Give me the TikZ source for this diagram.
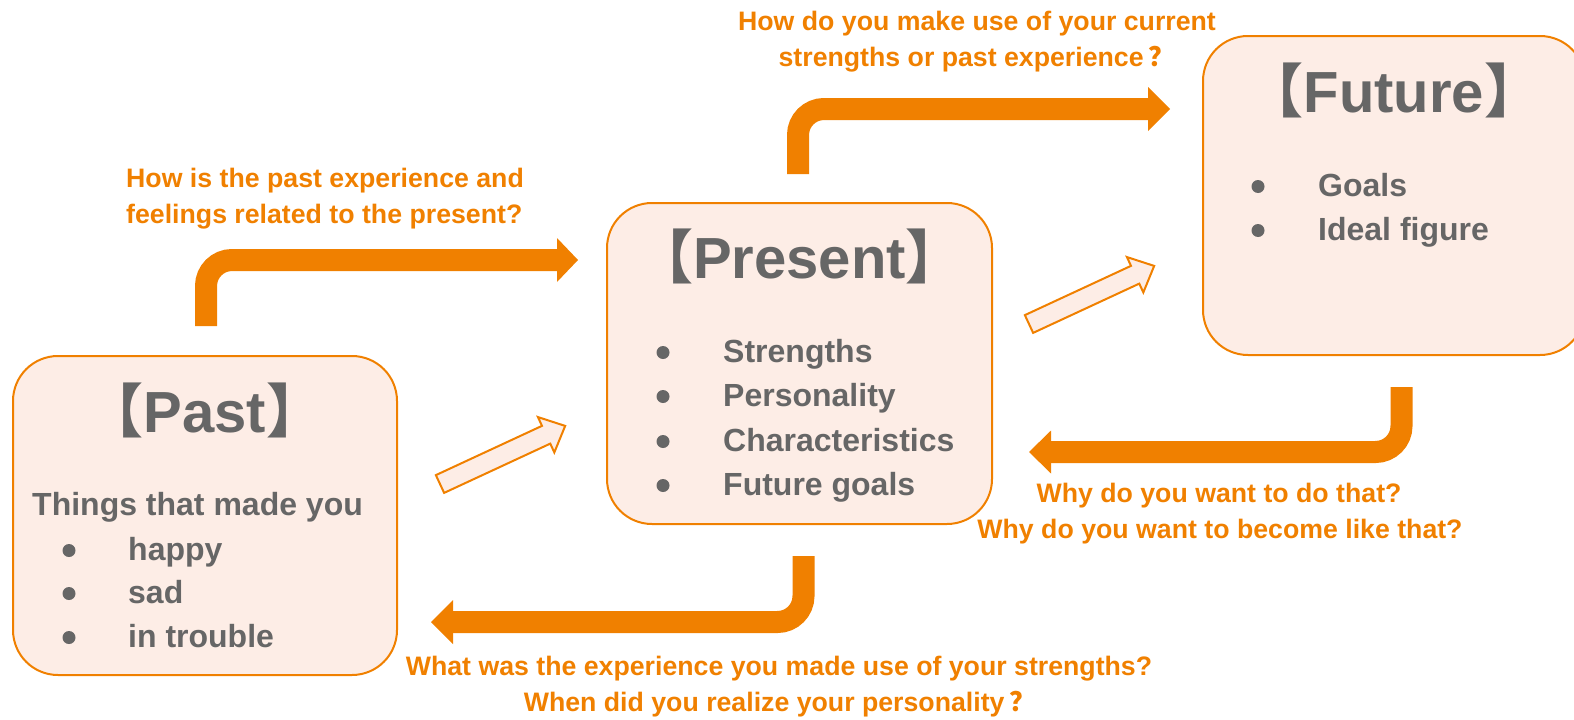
\documentclass[tikz,border=0pt]{standalone}
\usepackage{fontspec}
\setmainfont{Liberation Sans}
\newfontfamily\cjk{Noto Sans CJK SC}
\definecolor{org}{RGB}{240,128,0}
\definecolor{boxfill}{RGB}{253,237,230}
\definecolor{txtgray}{RGB}{102,102,102}
\tikzset{
  box/.style={draw=org, line width=2pt, fill=boxfill, rounded corners=45pt, inner sep=0pt},
  titletxt/.style={font=\fontsize{58}{58}\selectfont\bfseries, text=txtgray, anchor=base, inner sep=0pt},
  item/.style={font=\fontsize{32}{32}\selectfont\bfseries, text=txtgray, anchor=base west, inner sep=0pt},
  qtxt/.style={font=\fontsize{26.7}{26.7}\selectfont\bfseries, text=org, inner sep=0pt},
  bigarrow/.style={draw=org, line width=22pt, rounded corners=26pt},
  bighead/.style={fill=org},
  hollow/.style={draw=org, line width=2pt, fill=boxfill, line join=miter},
  bul/.style={fill=txtgray}
}
\begin{document}
\begin{tikzpicture}[x=1pt,y=1pt]
\useasboundingbox (0,0) rectangle (1574,-720);

% boxes
\node[box, minimum width=384pt, minimum height=319pt] (past) at (205,-515.5) {};
\node[box, minimum width=385pt, minimum height=321pt] (present) at (799.5,-363.5) {};
\node[box, minimum width=382pt, minimum height=319pt] (future) at (1394,-195.5) {};

% titles
\node[titletxt] (pastT) at (205,-432) {{\cjk 【}Past{\cjk 】}};
\node[titletxt] (presentT) at (799.5,-278) {{\cjk 【}Present{\cjk 】}};
\node[titletxt] (futureT) at (1394,-112) {{\cjk 【}Future{\cjk 】}};

% past items
\node[item] (p0) at (32,-515) {Things that made you};
\fill[bul] (69,-550.5) circle (6.5);
\fill[bul] (69,-593.5) circle (6.5);
\fill[bul] (69,-637.5) circle (6.5);
\node[item] (p1) at (128,-560) {happy};
\node[item] (p2) at (128,-603) {sad};
\node[item] (p3) at (128,-647) {in trouble};

% present items
\fill[bul] (663,-352.5) circle (6.5);
\fill[bul] (663,-396.5) circle (6.5);
\fill[bul] (663,-441.5) circle (6.5);
\fill[bul] (663,-485.5) circle (6.5);
\node[item] (r1) at (723,-362) {Strengths};
\node[item] (r2) at (723,-406) {Personality};
\node[item] (r3) at (723,-451) {Characteristics};
\node[item] (r4) at (723,-495) {Future goals};

% future items
\fill[bul] (1258,-186.5) circle (6.5);
\fill[bul] (1258,-230.5) circle (6.5);
\node[item] (f1) at (1318,-196) {Goals};
\node[item] (f2) at (1318,-240) {Ideal figure};

% big bent arrows
\coordinate (a1s) at (206,-326); \coordinate (a1h) at (558,-260);
\draw[bigarrow] (a1s) |- (a1h);
\fill[bighead] (557,-238) -- (578,-260) -- (557,-282) -- cycle;

\coordinate (a2s) at (798,-174); \coordinate (a2h) at (1149,-109);
\draw[bigarrow] (a2s) |- (a2h);
\fill[bighead] (1148,-87) -- (1170,-109) -- (1148,-131) -- cycle;

\coordinate (a3s) at (1401.5,-387); \coordinate (a3h) at (1050,-452);
\draw[bigarrow] (a3s) |- (a3h);
\fill[bighead] (1051,-430.5) -- (1029,-452) -- (1051,-473.5) -- cycle;

\coordinate (a4s) at (803.5,-556); \coordinate (a4h) at (452,-622);
\draw[bigarrow] (a4s) |- (a4h);
\fill[bighead] (453,-600) -- (431,-622) -- (453,-644) -- cycle;

% hollow arrows
\begin{scope}[shift={(440,-484)}, rotate=24.9]
\draw[hollow] (0,-9.8) -- (117,-9.8) -- (117,-19.5) -- (138,0) -- (117,19.5) -- (117,9.8) -- (0,9.8) -- cycle;
\end{scope}
\begin{scope}[shift={(1029,-324)}, rotate=24.9]
\draw[hollow] (0,-9.8) -- (117,-9.8) -- (117,-19.5) -- (138,0) -- (117,19.5) -- (117,9.8) -- (0,9.8) -- cycle;
\end{scope}

% question labels
\node[qtxt, anchor=base west] (q1a) at (126,-187) {How is the past experience and};
\node[qtxt, anchor=base west] (q1b) at (126,-223) {feelings related to the present?};
\node[qtxt, anchor=base] (q2a) at (977,-30) {How do you make use of your current};
\node[qtxt, anchor=base] (q2b) at (977,-66) {strengths or past experience\hspace{5pt}{\cjk ？}};
\node[qtxt, anchor=base] (q3a) at (1219,-502) {Why do you want to do that?};
\node[qtxt, anchor=base] (q3b) at (1220,-538) {Why do you want to become like that?};
\node[qtxt, anchor=base] (q4a) at (779,-675) {What was the experience you made use of your strengths?};
\node[qtxt, anchor=base] (q4b) at (780,-711) {When did you realize your personality\hspace{5pt}{\cjk ？}};
\end{tikzpicture}
\end{document}
